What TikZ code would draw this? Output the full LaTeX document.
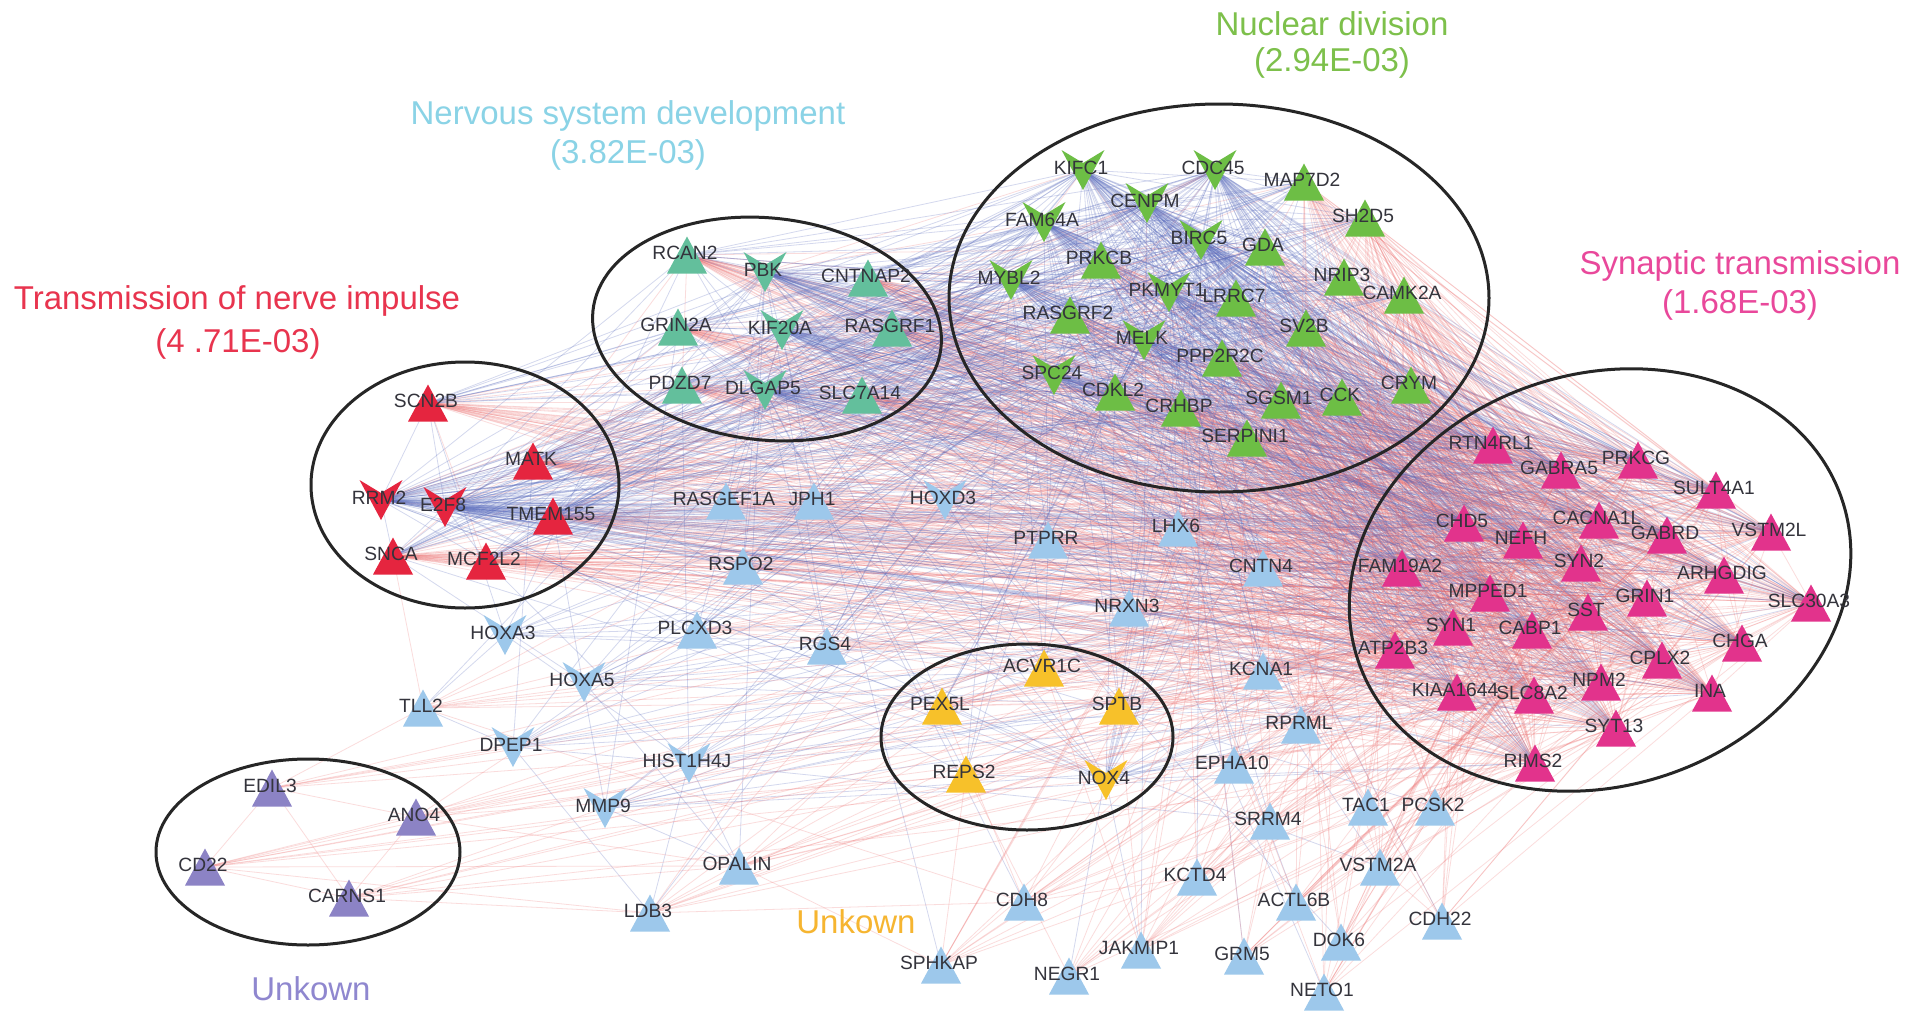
\documentclass[tikz,border=0pt]{standalone}
\usepackage{fontspec}
\setmainfont{Liberation Sans}
\usetikzlibrary{calc}
\definecolor{redN}{HTML}{E5253F}
\definecolor{tealN}{HTML}{63BF9C}
\definecolor{grnN}{HTML}{6DBE45}
\definecolor{pinkN}{HTML}{E2338C}
\definecolor{purN}{HTML}{8C83C5}
\definecolor{yelN}{HTML}{F7C12A}
\definecolor{bluN}{HTML}{9DC8EB}
\definecolor{bEc}{HTML}{5A6CBE}
\definecolor{rEc}{HTML}{EE7070}
\definecolor{lblc}{HTML}{34343C}
\definecolor{tRed}{HTML}{E8344E}
\definecolor{tTeal}{HTML}{8AD3E6}
\definecolor{tGrn}{HTML}{7DC04B}
\definecolor{tPink}{HTML}{E9489B}
\definecolor{tOra}{HTML}{F6B530}
\definecolor{tPur}{HTML}{8F87CF}
\tikzset{
  bE/.style={draw=bEc, line width=0.4pt, opacity=0.26},
  rE/.style={draw=rEc, line width=0.4pt, opacity=0.24},
  ring/.style={draw=black!85, line width=1.5pt},
  lbl/.style={inner sep=0pt, text=lblc, font=\fontsize{9.6}{10}\selectfont},
  ttl/.style={inner sep=0pt, font=\fontsize{16.5}{18}\selectfont},
}
\def\redT{SCN2B,MATK,TMEM155,SNCA,MCF2L2}
\def\redV{RRM2,E2F8}
\def\tealT{RCAN2,CNTNAP2,GRIN2A,RASGRF1,PDZD7,SLC7A14}
\def\tealV{PBK,KIF20A,DLGAP5}
\def\grnT{MAP7D2,SH2D5,GDA,PRKCB,NRIP3,CAMK2A,LRRC7,RASGRF2,SV2B,PPP2R2C,CDKL2,CRYM,CRHBP,SGSM1,CCK,SERPINI1}
\def\grnV{KIFC1,CDC45,CENPM,FAM64A,BIRC5,MYBL2,PKMYT1,MELK,SPC24}
\def\cellV{RRM2,E2F8,PBK,KIF20A,DLGAP5,KIFC1,CDC45,CENPM,FAM64A,BIRC5,MYBL2,PKMYT1,MELK,SPC24}
\def\neuT{SCN2B,MATK,TMEM155,SNCA,MCF2L2,RCAN2,CNTNAP2,GRIN2A,RASGRF1,PDZD7,SLC7A14,MAP7D2,SH2D5,GDA,PRKCB,NRIP3,CAMK2A,LRRC7,RASGRF2,SV2B,PPP2R2C,CDKL2,CRYM,CRHBP,SGSM1,CCK,SERPINI1}
\def\pinkT{RTN4RL1,GABRA5,PRKCG,SULT4A1,CHD5,CACNA1L,NEFH,GABRD,VSTM2L,FAM19A2,SYN2,ARHGDIG,MPPED1,GRIN1,SLC30A3,SST,SYN1,CABP1,ATP2B3,CHGA,CPLX2,KIAA1644,SLC8A2,NPM2,INA,SYT13,RIMS2}
\def\upB{RASGEF1A,JPH1,PTPRR,LHX6,RSPO2,CNTN4,NRXN3,PLCXD3,RGS4,KCNA1}
\def\lowB{TLL2,RPRML,EPHA10,OPALIN,LDB3,TAC1,PCSK2,SRRM4,KCTD4,VSTM2A,CDH8,ACTL6B,CDH22,DOK6,JAKMIP1,GRM5,SPHKAP,NEGR1,NETO1}
\def\bluV{HOXD3,HOXA3,HOXA5,DPEP1,HIST1H4J,MMP9}
\def\yelT{ACVR1C,PEX5L,SPTB,REPS2}
\def\purT{EDIL3,ANO4,CD22,CARNS1}
\begin{document}
\begin{tikzpicture}[x=0.5pt,y=-0.5pt]
\useasboundingbox (0,0) rectangle (1913,1028);
\fill[white] (0,0) rectangle (1913,1028);
% ---- node positions
\foreach \n/\x/\y in {SCN2B/428/403,MATK/533/461,TMEM155/553/516,SNCA/393/556,MCF2L2/486/561,RRM2/381/500,E2F8/445/507,
 RCAN2/687/255,CNTNAP2/868/278,GRIN2A/678/327,RASGRF1/892/328,PDZD7/682/385,SLC7A14/862/395,PBK/765/272,KIF20A/782/330,DLGAP5/765/390,
 MAP7D2/1304/182,SH2D5/1365/218,GDA/1265/247,PRKCB/1101/260,NRIP3/1344/277,CAMK2A/1404/295,LRRC7/1236/298,RASGRF2/1070/315,SV2B/1306/328,PPP2R2C/1222/358,CDKL2/1115/392,CRYM/1411/385,CRHBP/1181/408,SGSM1/1281/400,CCK/1342/397,SERPINI1/1247/438,
 KIFC1/1083/170,CDC45/1215/170,CENPM/1147/203,FAM64A/1044/222,BIRC5/1201/240,MYBL2/1011/280,PKMYT1/1169/292,MELK/1144/340,SPC24/1054/375,
 RTN4RL1/1493/445,GABRA5/1561/470,PRKCG/1638/460,SULT4A1/1716/490,CHD5/1464/523,CACNA1L/1599/520,NEFH/1523/540,GABRD/1667/535,VSTM2L/1771/532,FAM19A2/1402/568,SYN2/1581/563,ARHGDIG/1724/575,MPPED1/1490/593,GRIN1/1647/598,SLC30A3/1811/603,SST/1588/612,SYN1/1453/627,CABP1/1532/630,ATP2B3/1395/650,CHGA/1742/643,CPLX2/1662/660,KIAA1644/1457/692,SLC8A2/1534/695,NPM2/1601/682,INA/1712/693,SYT13/1616/728,RIMS2/1535/763,
 EDIL3/272/788,ANO4/416/817,CD22/205/867,CARNS1/349/898,
 ACVR1C/1044/668,PEX5L/942/706,SPTB/1119/706,REPS2/966/774,NOX4/1106/780,
 RASGEF1A/726/501,JPH1/814/501,PTPRR/1048/540,LHX6/1178/528,RSPO2/743/566,CNTN4/1263/568,NRXN3/1129/608,PLCXD3/697/630,RGS4/827/646,KCNA1/1263/671,TLL2/423/708,RPRML/1301/725,EPHA10/1234/765,OPALIN/739/866,LDB3/650/913,TAC1/1368/807,PCSK2/1435/807,SRRM4/1270/821,KCTD4/1197/877,VSTM2A/1380/867,CDH8/1024/902,ACTL6B/1296/902,CDH22/1442/921,DOK6/1341/942,JAKMIP1/1141/950,GRM5/1244/956,SPHKAP/941/965,NEGR1/1069/976,NETO1/1324/992,
 HOXD3/945/500,HOXA3/505/635,HOXA5/584/682,DPEP1/513/747,HIST1H4J/689/763,MMP9/605/808}
 {\coordinate (\n) at (\x,\y);}
% ---- red (positive) connectors, first layer
\foreach \a in \neuT {\foreach \b in \pinkT {\draw[rE] (\a) -- (\b);}}
\foreach \a [count=\i] in \neuT {\foreach \b [count=\j] in \neuT {\ifnum\j>\i\relax\pgfmathtruncatemacro\r{mod(\i*3+\j,4)}\ifnum\r=0\relax\draw[rE] (\a) -- (\b);\fi\fi}}
\foreach \a [count=\i] in \upB {\foreach \b [count=\j] in \pinkT {\pgfmathtruncatemacro\r{mod(\i*2+\j,3)}\ifnum\r=0\relax\draw[rE] (\a) -- (\b);\fi}}
\foreach \a [count=\i] in \cellV {\foreach \b [count=\j] in \cellV {\ifnum\j>\i\relax\pgfmathtruncatemacro\r{mod(\i+\j,3)}\ifnum\r=0\relax\draw[rE] (\a) -- (\b);\fi\fi}}
% ---- blue (negative) connectors
\foreach \a in \cellV {\foreach \b in \pinkT {\draw[bE] (\a) -- (\b);}}
\foreach \a in \cellV {\foreach \b in \grnT {\draw[bE] (\a) -- (\b);}}
\foreach \a in \cellV {\foreach \b in {SCN2B,MATK,TMEM155,SNCA,MCF2L2,RCAN2,CNTNAP2,GRIN2A,RASGRF1,PDZD7,SLC7A14} {\draw[bE] (\a) -- (\b);}}
\foreach \a [count=\i] in \cellV {\foreach \b [count=\j] in \upB {\pgfmathtruncatemacro\r{mod(\i+\j,2)}\ifnum\r=0\relax\draw[bE] (\a) -- (\b);\fi}}
\foreach \a [count=\i] in \cellV {\foreach \b [count=\j] in \yelT {\pgfmathtruncatemacro\r{mod(\i+\j,3)}\ifnum\r=0\relax\draw[bE] (\a) -- (\b);\fi}}
\foreach \a [count=\i] in \cellV {\foreach \b [count=\j] in \lowB {\pgfmathtruncatemacro\r{mod(\i*3+\j,13)}\ifnum\r=0\relax\draw[bE] (\a) -- (\b);\fi}}
\foreach \a [count=\i] in \bluV {\foreach \b [count=\j] in \pinkT {\pgfmathtruncatemacro\r{mod(\i+\j*2,5)}\ifnum\r=0\relax\draw[bE] (\a) -- (\b);\fi}}
\foreach \a [count=\i] in \bluV {\foreach \b [count=\j] in \neuT {\pgfmathtruncatemacro\r{mod(\i*2+\j,5)}\ifnum\r=0\relax\draw[bE] (\a) -- (\b);\fi}}
\foreach \b [count=\j] in \neuT {\pgfmathtruncatemacro\r{mod(\j,2)}\ifnum\r=0\relax\draw[bE] (NOX4) -- (\b);\fi}
\foreach \b [count=\j] in \pinkT {\pgfmathtruncatemacro\r{mod(\j,3)}\ifnum\r=0\relax\draw[bE] (NOX4) -- (\b);\fi}
\foreach \a/\b in {DPEP1/HIST1H4J,DPEP1/LDB3,DPEP1/TLL2,HOXA3/TLL2,HOXA5/OPALIN,HOXA3/HIST1H4J,HIST1H4J/LDB3,HIST1H4J/OPALIN,MMP9/OPALIN,HOXA5/PLCXD3,NOX4/PEX5L,NOX4/SPTB,NOX4/ACVR1C,NOX4/REPS2,NOX4/JAKMIP1,NOX4/PLCXD3,NOX4/RGS4,HOXD3/RGS4,HOXD3/ACVR1C,HIST1H4J/SRRM4,MMP9/EPHA10}
 {\draw[bE] (\a) -- (\b);}
% ---- red (positive) connectors, top layer
\foreach \a [count=\i] in \pinkT {\foreach \b [count=\j] in \pinkT {\ifnum\j>\i\relax\pgfmathtruncatemacro\r{mod(\i+\j,2)}\ifnum\r=0\relax\draw[rE] (\a) -- (\b);\fi\fi}}
\foreach \a [count=\i] in \lowB {\foreach \b [count=\j] in \pinkT {\pgfmathtruncatemacro\r{mod(\i*3+\j*5,4)}\ifnum\r=0\relax\draw[rE] (\a) -- (\b);\fi}}
\foreach \a [count=\i] in \lowB {\foreach \b [count=\j] in \grnT {\pgfmathtruncatemacro\r{mod(\i*5+\j*3,7)}\ifnum\r=0\relax\draw[rE] (\a) -- (\b);\fi}}
\foreach \a [count=\i] in \yelT {\foreach \b [count=\j] in \pinkT {\pgfmathtruncatemacro\r{mod(\i+\j,3)}\ifnum\r=0\relax\draw[rE] (\a) -- (\b);\fi}}
\foreach \a [count=\i] in \purT {\foreach \b [count=\j] in \pinkT {\pgfmathtruncatemacro\r{mod(\i*2+\j,5)}\ifnum\r=0\relax\draw[rE] (\a) -- (\b);\fi}}
\foreach \a/\b in {EDIL3/ANO4,EDIL3/CD22,EDIL3/CARNS1,CD22/ANO4,CD22/CARNS1,ANO4/CARNS1,CD22/OPALIN,CD22/LDB3,CD22/REPS2,CD22/NOX4,ANO4/OPALIN,ANO4/HIST1H4J,EDIL3/DPEP1,EDIL3/TLL2,CARNS1/LDB3,CARNS1/OPALIN,ANO4/PLCXD3,TLL2/SNCA,TLL2/CDH8,OPALIN/SPHKAP,LDB3/CDH8,REPS2/SPHKAP,PEX5L/CDH8,ACVR1C/JAKMIP1,SPTB/JAKMIP1,REPS2/NEGR1,CDH8/KCTD4,JAKMIP1/KCTD4,JAKMIP1/EPHA10,GRM5/SRRM4,ACTL6B/TAC1,DOK6/VSTM2A,NETO1/PCSK2,CDH22/VSTM2A}
 {\draw[rE] (\a) -- (\b);}
% ---- group outlines
\coordinate (cR) at (465,485);
\coordinate (cT) at (767,329);
\coordinate (cG) at (1219,298);
\coordinate (cP) at (1600,580);
\coordinate (cY) at (1027,737);
\coordinate (cU) at (308,852);
\draw[ring] (cR) ellipse [x radius=77pt, y radius=61.5pt];
\draw[ring, rotate around={-6:(cT)}] (cT) ellipse [x radius=87.5pt, y radius=55.5pt];
\draw[ring] (cG) ellipse [x radius=135pt, y radius=97pt];
\draw[ring, rotate around={18:(cP)}] (cP) ellipse [x radius=127.5pt, y radius=103pt];
\draw[ring] (cY) ellipse [x radius=73pt, y radius=46.5pt];
\draw[ring] (cU) ellipse [x radius=76pt, y radius=46.5pt];
% ---- node shapes
\def\tri#1#2{\foreach \n in #1 {\fill[#2, shift={(\n)}] (-20,18.5) -- (20,18.5) -- (0,-18.5) -- cycle;}}
\def\vee#1#2{\foreach \n in #1 {\fill[#2, shift={(\n)}] (-21.5,-20) -- (0,-7) -- (21.5,-20) -- (0,20) -- cycle;}}
\tri{\redT}{redN}\vee{\redV}{redN}
\tri{\tealT}{tealN}\vee{\tealV}{tealN}
\tri{\grnT}{grnN}\vee{\grnV}{grnN}
\tri{\pinkT}{pinkN}
\tri{\purT}{purN}
\tri{\yelT}{yelN}\vee{{NOX4}}{yelN}
\tri{\upB}{bluN}\tri{\lowB}{bluN}\vee{\bluV}{bluN}
% ---- labels
\foreach \n in {SCN2B,MATK,TMEM155,SNCA,MCF2L2,RRM2,E2F8,RCAN2,CNTNAP2,GRIN2A,RASGRF1,PDZD7,SLC7A14,PBK,KIF20A,DLGAP5,MAP7D2,SH2D5,GDA,PRKCB,NRIP3,CAMK2A,LRRC7,RASGRF2,SV2B,PPP2R2C,CDKL2,CRYM,CRHBP,SGSM1,CCK,SERPINI1,KIFC1,CDC45,CENPM,FAM64A,BIRC5,MYBL2,PKMYT1,MELK,SPC24,EDIL3,ANO4,CD22,CARNS1,ACVR1C,PEX5L,SPTB,REPS2,NOX4,HOXD3,HOXA3,HOXA5,DPEP1,HIST1H4J,MMP9}
 {\node[lbl] (\n-l) at ($(\n)+(-2,-2)$) {\n};}
\foreach \n in \pinkT {\node[lbl] (\n-l) at ($(\n)+(-2,-2)$) {\n};}
\foreach \n in \upB {\node[lbl] (\n-l) at ($(\n)+(-2,-2)$) {\n};}
\foreach \n in \lowB {\node[lbl] (\n-l) at ($(\n)+(-2,-2)$) {\n};}
% ---- titles
\node[ttl, text=tRed] (t1a) at (237,301) {Transmission of nerve impulse};
\node[ttl, text=tRed] (t1b) at (238,344) {(4 .71E-03)};
\node[ttl, text=tTeal] (t2a) at (628,116) {Nervous system development};
\node[ttl, text=tTeal] (t2b) at (628,155) {(3.82E-03)};
\node[ttl, text=tGrn] (t3a) at (1332,24) {Nuclear division};
\node[ttl, text=tGrn] (t3b) at (1332,63) {(2.94E-03)};
\node[ttl, text=tPink] (t4a) at (1740,266) {Synaptic transmission};
\node[ttl, text=tPink] (t4b) at (1740,305) {(1.68E-03)};
\node[ttl, text=tOra] (t5) at (856,922) {Unkown};
\node[ttl, text=tPur] (t6) at (311,989) {Unkown};
\end{tikzpicture}
\end{document}
